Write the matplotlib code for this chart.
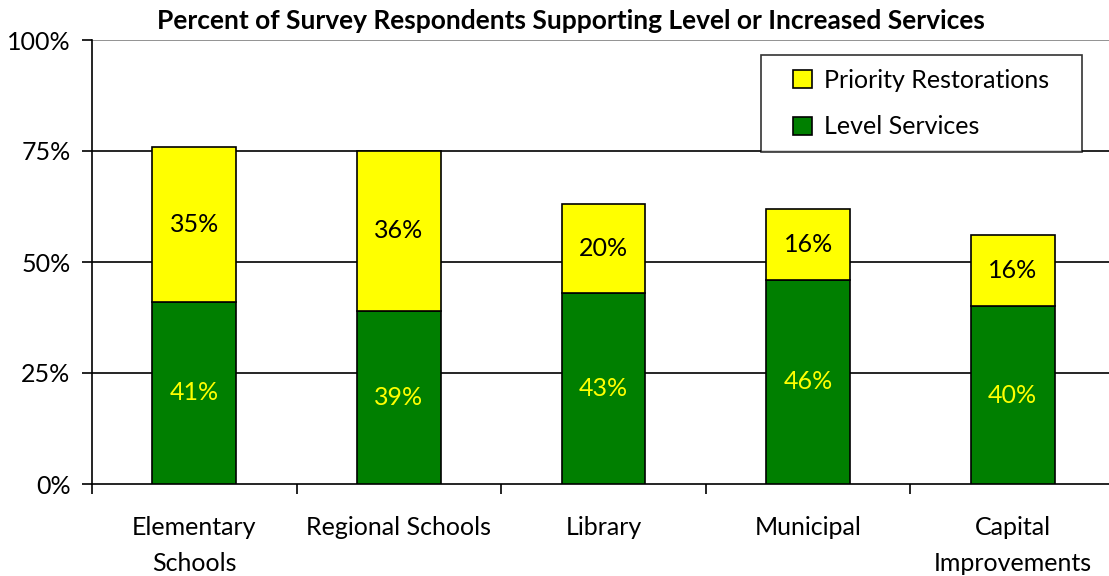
import numpy as np
import matplotlib.pyplot as plt
from matplotlib.ticker import FixedLocator, PercentFormatter

plt.rcParams['font.family'] = ['Lato', 'DejaVu Sans']

# survey results, percent of respondents
categories = ["Elementary\nSchools", "Regional Schools", "Library", "Municipal", "Capital\nImprovements"]
level_services = [41, 39, 43, 46, 40]
priority_restorations = [35, 36, 20, 16, 16]

x = np.arange(len(categories))
width = 0.41

fig = plt.figure(figsize=(11.09, 5.76), dpi=100)
ax = fig.add_axes([92 / 1109, 1 - 484 / 576, 1 - 92 / 1109, 444 / 576])

green = ax.bar(x, level_services, width, color="#007f00", edgecolor="black", linewidth=1.2,
               label="Level Services", zorder=3)
yellow = ax.bar(x, priority_restorations, width, bottom=level_services, color="#ffff00",
                edgecolor="black", linewidth=1.2, label="Priority Restorations", zorder=3)

for i in range(len(x)):
    ax.text(x[i], level_services[i] / 2, f"{level_services[i]}%", ha="center", va="center",
            color="#ffff00", fontsize=18, zorder=4)
    ax.text(x[i], level_services[i] + priority_restorations[i] / 2, f"{priority_restorations[i]}%",
            ha="center", va="center", color="black", fontsize=18, zorder=4)

ax.set_ylim(0, 100)
ax.set_xlim(-0.5, -0.5 + 1017 / 204.6)
ax.set_yticks([0, 25, 50, 75, 100])
ax.yaxis.set_major_formatter(PercentFormatter(decimals=0))
ax.tick_params(axis="y", labelsize=18, length=7.5, width=1.2, direction="out", pad=8)

# category labels between boundary ticks
ax.set_xticks(x)
ax.set_xticklabels(categories, fontsize=18, linespacing=1.7)
ax.tick_params(axis="x", which="major", length=0, pad=23)
ax.xaxis.set_minor_locator(FixedLocator(np.arange(-0.5, 4.0, 1.0)))
ax.tick_params(axis="x", which="minor", length=7, width=1.2, direction="out")

for val in [25, 50, 75]:
    ax.axhline(val, color="black", linewidth=1.2, zorder=1)
ax.axhline(100, color="#808080", linewidth=1.2, zorder=1)

ax.spines["top"].set_visible(False)
ax.spines["right"].set_visible(False)
ax.spines["left"].set_linewidth(1.2)
ax.spines["bottom"].set_linewidth(1.2)

leg = ax.legend(handles=[yellow, green], loc="upper right",
                bbox_to_anchor=(1063 / 1109, 1 - 55 / 576), bbox_transform=fig.transFigure,
                fontsize=18, frameon=True, fancybox=False, handlelength=0.75, handleheight=0.75,
                borderpad=0.54, labelspacing=0.96, handletextpad=0.5, borderaxespad=0)
# wider frame sideways only
frame = leg.get_frame()
frame.set_boxstyle("square", pad=0.75)
frame.set_mutation_aspect(1e-3)
frame.set_edgecolor("black")
frame.set_linewidth(1.2)

fig.suptitle("Percent of Survey Respondents Supporting Level or Increased Services",
             x=571 / 1109, y=1 - 9 / 576, va="top", fontsize=19, fontweight="bold")

fig.savefig("out.png", dpi=100)
